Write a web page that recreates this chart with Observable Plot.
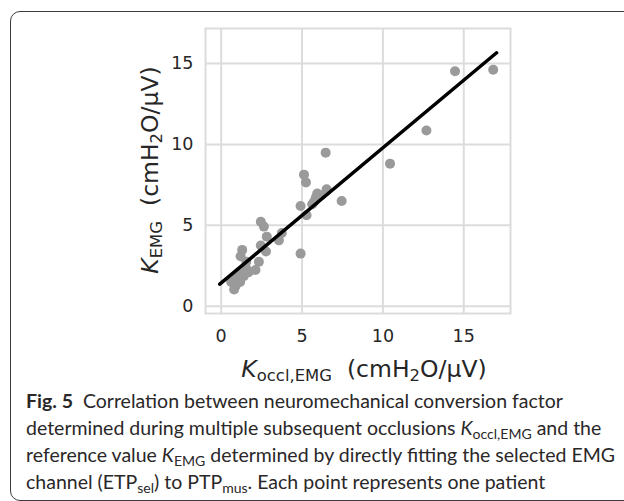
<!DOCTYPE html>
<html>
<head>
<meta charset="utf-8">
<script src="https://cdn.jsdelivr.net/npm/d3@7"></script>
<script src="https://cdn.jsdelivr.net/npm/@observablehq/plot@0.6"></script>
<style>
  html, body { margin: 0; padding: 0; background: #fff; overflow: hidden; }
  #fig { position: relative; width: 624px; height: 501px; overflow: hidden; }
  #box { position: absolute; left: 10px; top: 11px; width: 660px; height: 488px;
         border: 1.5px solid #3c3c3c; border-radius: 10px; }
  #chart { position: absolute; left: 0; top: 0; }
  .mlab { position: absolute; font-family: "DejaVu Sans", sans-serif; font-size: 23.5px; color: #262626;
          white-space: nowrap; line-height: 1; }
  .mlab i { font-style: oblique; }
  .mlab sub { font-size: 0.7em; vertical-align: -0.25em; line-height: 0; }
  #xlab { left: 364px; top: 370px; transform: translate(-50%, -50%); }
  #ylab { left: 151px; top: 170px; transform: translate(-50%, -50%) rotate(-90deg); }
  #caption { position: absolute; left: 26px; top: 387px; width: 600px; font-family: Lato, sans-serif;
             font-size: 19.5px; line-height: 27px; color: #2a2728; white-space: nowrap; }
  #caption b { font-weight: 700; }
  #caption i { font-style: italic; }
  #caption sub { font-size: 0.72em; vertical-align: -0.3em; line-height: 0; }
</style>
</head>
<body>
<div id="fig">
  <div id="box"></div>
  <div id="chart"></div>
  <div id="ylab" class="mlab"><i>K</i><sub>EMG</sub>&nbsp; (cmH<sub>2</sub>O/μV)</div>
  <div id="xlab" class="mlab"><i>K</i><sub>occl,EMG</sub>&nbsp; (cmH<sub>2</sub>O/μV)</div>
  <div id="caption"><b>Fig. 5</b>&nbsp; Correlation between neuromechanical conversion factor<br>determined during multiple subsequent occlusions <i>K</i><sub>occl,EMG</sub> and the<br>reference value <i>K</i><sub>EMG</sub> determined by directly fitting the selected EMG<br>channel (ETP<sub>sel</sub>) to PTP<sub>mus</sub>. Each point represents one patient</div>
</div>
<script>
// K_occl,EMG values (x) and K_EMG values (y), one per patient
const kOccl = [14.46, 16.82, 12.69, 10.44, 6.46, 7.45, 5.12, 5.24, 4.91, 4.91,
               5.28, 6.52, 5.94, 6.14, 5.73, 5.63, 5.85, 2.45, 2.64, 2.82,
               3.75, 3.57, 2.45, 2.77, 1.30, 1.20, 1.55, 2.33, 2.12, 1.55,
               1.40, 0.94, 0.62, 0.89, 0.80, 1.17, 1.00, 1.70, 1.05];
const kEmg  = [14.52, 14.61, 10.86, 8.81, 9.49, 6.50, 8.13, 7.65, 6.19, 3.25,
               5.62, 7.22, 6.96, 6.85, 6.44, 6.30, 6.70, 5.22, 4.92, 4.30,
               4.52, 4.07, 3.75, 3.38, 3.48, 3.09, 2.74, 2.74, 2.24, 2.33,
               1.86, 1.81, 1.50, 1.25, 1.03, 1.50, 1.60, 2.10, 2.05];
// fitted regression line endpoints
const fitX = [-0.09, 17.03];
const fitY = [1.36, 15.66];
const xTicks = [0, 5, 10, 15];
const yTicks = [0, 5, 10, 15];

const points = kOccl.map((x, i) => ({x, y: kEmg[i]}));
const fit = fitX.map((x, i) => ({x, y: fitY[i]}));

const grid = "#dcdcdc";
const chart = Plot.plot({
  width: 624,
  height: 390,
  marginLeft: 205,
  marginRight: 114,
  marginTop: 28,
  marginBottom: 77,
  x: {domain: [-0.97, 17.89]},
  y: {domain: [-0.45, 17.16]},
  style: {fontFamily: "DejaVu Sans", fontSize: "17.5px", color: "#262626", background: "transparent", overflow: "visible"},
  marks: [
    Plot.gridX(xTicks, {stroke: grid, strokeOpacity: 1, strokeWidth: 2}),
    Plot.gridY(yTicks, {stroke: grid, strokeOpacity: 1, strokeWidth: 2}),
    Plot.frame({stroke: grid, strokeWidth: 2}),
    Plot.axisX(xTicks, {tickSize: 0, tickPadding: 16, label: null, fontSize: 17.5}),
    Plot.axisY(yTicks, {tickSize: 0, tickPadding: 12, label: null, fontSize: 17.5}),
    Plot.dot(points, {x: "x", y: "y", r: 5, fill: "#9a9a9a", stroke: null}),
    Plot.line(fit, {x: "x", y: "y", stroke: "black", strokeWidth: 3.5})
  ]
});
document.getElementById("chart").appendChild(chart);
</script>
</body>
</html>
